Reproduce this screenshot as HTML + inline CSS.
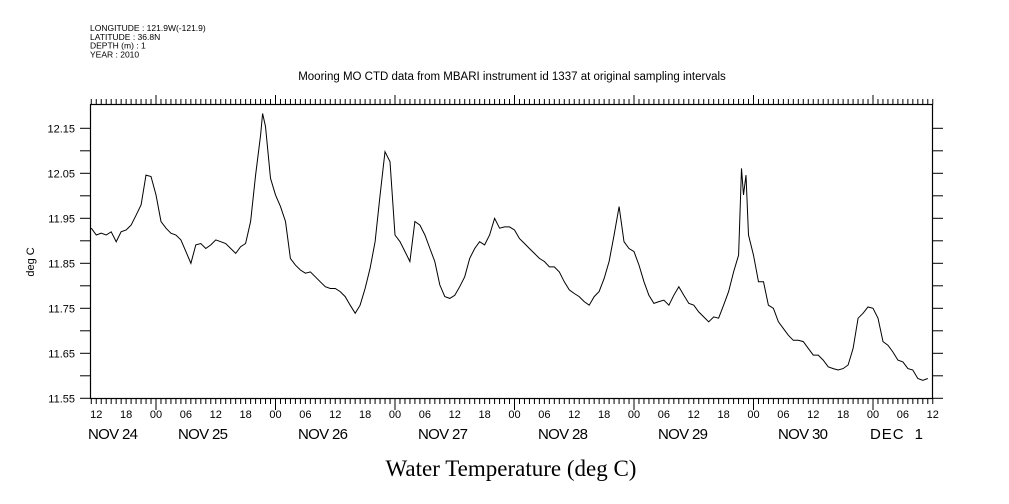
<!DOCTYPE html>
<html><head><meta charset="utf-8"><style>
body{margin:0;background:#fff;}
svg{display:block;font-family:"Liberation Sans",sans-serif;}
</style></head><body>
<svg id="chart" width="1009" height="504" viewBox="0 0 1009 504">
<g font-size="8.5" fill="#000">
<text x="90" y="31">LONGITUDE : 121.9W(-121.9)</text>
<text x="90" y="40">LATITUDE : 36.8N</text>
<text x="90" y="48.5">DEPTH (m) : 1</text>
<text x="90" y="57.5">YEAR : 2010</text>
</g>
<text x="512" y="80" font-size="11.5" text-anchor="middle">Mooring MO CTD data from MBARI instrument id 1337 at original sampling intervals</text>
<text transform="translate(34,262) rotate(-90)" font-size="11" text-anchor="middle">deg C</text>
<text x="511" y="476" font-family="'Liberation Serif',serif" font-size="23" text-anchor="middle">Water Temperature (deg C)</text>
<g id="axes"></g>
<g id="labels"></g>
<rect x="90.5" y="104.5" width="842" height="294" fill="none" stroke="#000" stroke-width="1.2"/>
<path id="series" fill="none" stroke="#000" stroke-width="1"/>
</svg>
<script>
const hours=[11,12,13,14,15,16,17,18,19,20,21,22,23,24,25,26,27,28,29,30,31,32,33,34,35,36,37,38,39,40,41,42,43,44,45,45.4,46,47,48,49,50,51,52,53,54,55,56,57,58,59,60,61,62,63,64,65,66,67,68,69,70,71,72,73,74,75,76,77,78,79,80,81,82,83,84,85,86,87,88,89,90,91,92,93,94,95,96,97,98,99,100,101,102,103,104,105,106,107,108,109,110,111,112,113,114,115,116,117,118,119,120,121,122,123,124,125,126,127,128,129,130,131,132,133,134,135,136,137,138,139,140,141,141.6,142,142.5,143,144,145,146,147,148,149,150,151,152,153,154,155,156,157,158,159,160,161,162,163,164,165,166,167,168,169,170,171,172,173,174,175,176,177,178,179];
const temps=[11.928,11.913,11.917,11.913,11.920,11.898,11.920,11.924,11.935,11.957,11.980,12.046,12.043,12.002,11.943,11.928,11.917,11.913,11.902,11.876,11.850,11.891,11.894,11.883,11.891,11.902,11.898,11.894,11.883,11.872,11.887,11.894,11.943,12.046,12.135,12.183,12.154,12.039,12.002,11.976,11.943,11.861,11.846,11.835,11.828,11.831,11.820,11.809,11.798,11.794,11.794,11.787,11.776,11.757,11.739,11.757,11.794,11.839,11.898,12.002,12.098,12.076,11.913,11.898,11.876,11.854,11.943,11.935,11.913,11.883,11.854,11.802,11.776,11.772,11.779,11.798,11.820,11.861,11.883,11.898,11.891,11.913,11.950,11.928,11.931,11.931,11.924,11.905,11.894,11.883,11.872,11.861,11.854,11.842,11.842,11.831,11.809,11.791,11.783,11.776,11.765,11.757,11.776,11.787,11.816,11.854,11.913,11.976,11.898,11.883,11.876,11.846,11.809,11.779,11.761,11.765,11.768,11.757,11.779,11.798,11.779,11.761,11.757,11.742,11.731,11.720,11.731,11.728,11.757,11.787,11.831,11.868,12.061,12.002,12.046,11.913,11.868,11.809,11.809,11.757,11.750,11.720,11.705,11.690,11.679,11.679,11.676,11.661,11.646,11.646,11.635,11.620,11.616,11.613,11.616,11.624,11.661,11.728,11.739,11.753,11.750,11.728,11.676,11.668,11.653,11.635,11.631,11.616,11.613,11.594,11.590,11.594];
const yTickLabels=["12.15","12.05","11.95","11.85","11.75","11.65","11.55"];
const hourLabels=["12","18","00","06"];
const dayLabels=["NOV 24","NOV 25","NOV 26","NOV 27","NOV 28","NOV 29","NOV 30","DEC  1"];
const dayLabelX=[88,178,298,418,538,658,778,870];

const X0=90.7,X1=933,Y0=398.3;
function xs(h){return 156+(h-24)*119.5/24;}
function ys(v){return Y0-(v-11.55)*450;}
const NS="http://www.w3.org/2000/svg";
const axes=document.getElementById('axes'),labels=document.getElementById('labels');
function line(x1,y1,x2,y2,name){const l=document.createElementNS(NS,'line');
l.setAttribute('x1',x1);l.setAttribute('y1',y1);l.setAttribute('x2',x2);l.setAttribute('y2',y2);
l.setAttribute('stroke','#000');l.setAttribute('stroke-width','1');


axes.appendChild(l);}
function txt(x,y,s,size,anchor,name){const t=document.createElementNS(NS,'text');
t.setAttribute('x',x);t.setAttribute('y',y);t.setAttribute('font-size',size);t.setAttribute('text-anchor',anchor);t.textContent=s;


labels.appendChild(t);return t;}
for(let h=11;h<=180;h++){const x=xs(h);if(x<X0||x>X1+0.5)continue;const big=h%24===0;
line(x,104.5,x,big?95:99,'x-tick-top');line(x,398.5,x,big?410:404,'x-tick-bottom');}
for(let h=12,i=0;h<=180;h+=6,i++){txt(xs(h),418,hourLabels[i%4],11,'middle','x-hour-label');}
dayLabels.forEach((d,i)=>{const t=txt(dayLabelX[i],439,d,15,'start','x-day-label');t.style.whiteSpace='pre';t.setAttribute('textLength',d==='DEC  1'?53:50);});
for(let k=0;k<=12;k++){const v=11.55+k*0.05;const y=ys(v);line(80,y,90.5,y,'y-tick-left');line(932.5,y,943,y,'y-tick-right');}
yTickLabels.forEach(s=>txt(75,ys(parseFloat(s))+4,s,11,'end','y-tick-label'));
let d='';hours.forEach((h,i)=>{d+=(i?'L':'M')+xs(h).toFixed(1)+','+ys(temps[i]).toFixed(1);});
document.getElementById('series').setAttribute('d',d);
</script>
</body></html>
